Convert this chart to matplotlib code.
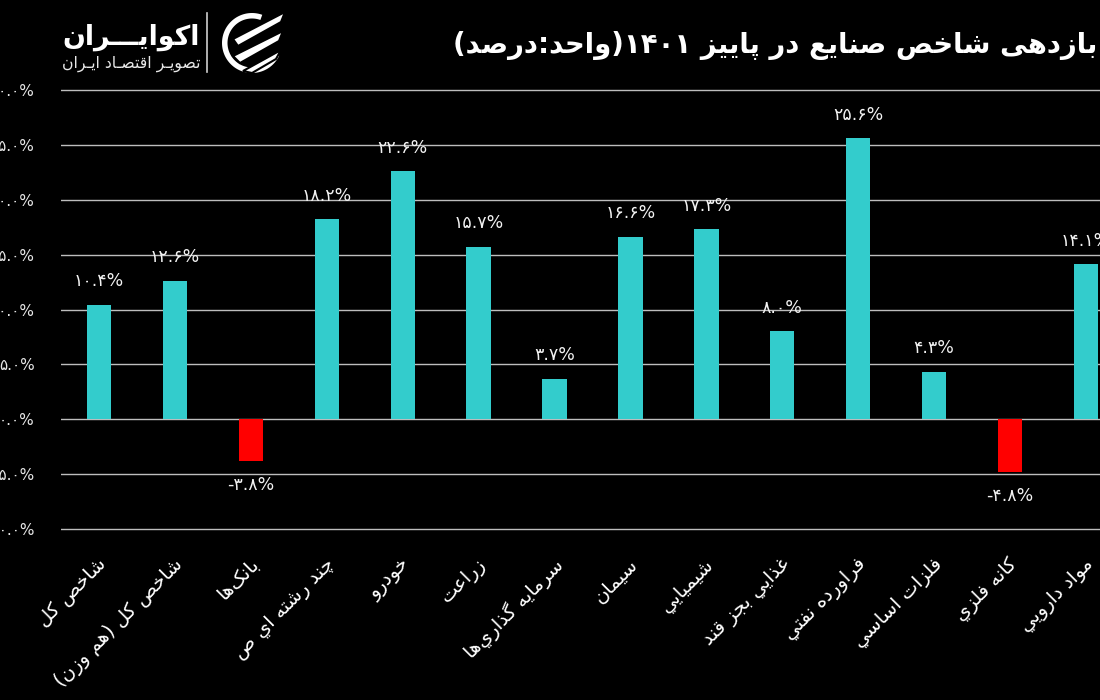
import re
import numpy as np
import matplotlib
matplotlib.use("Agg")
import matplotlib.pyplot as plt
import matplotlib.transforms as mtransforms
from matplotlib.patches import Polygon

# ---------------- data ----------------
categories = [
    "شاخص کل",
    "شاخص کل (هم وزن)",
    "بانک\u200cها",
    "چند رشته اي ص",
    "خودرو",
    "زراعت",
    "سرمايه گذاري\u200cها",
    "سيمان",
    "شيميايي",
    "غذايي بجز قند",
    "فراورده نفتي",
    "فلزات اساسي",
    "کانه فلزي",
    "مواد دارويي",
]
values = [10.4, 12.6, -3.8, 18.2, 22.6, 15.7, 3.7, 16.6, 17.3, 8.0, 25.6, 4.3, -4.8, 14.1]
yticks = [-10, -5, 0, 5, 10, 15, 20, 25, 30]
title_text = "بازدهی شاخص صنایع در پاییز ۱۴۰۱(واحد:درصد)"
logo_text = "اکوایـــران"
logo_sub = "تصویـر اقتصـاد ایـران"

POS_COLOR = "#33CCCC"
NEG_COLOR = "#FF0000"

# ---------------- minimal Arabic shaping + bidi ----------------
FORMS = {
    '\u0622': ('\uFE81', '\uFE82'), '\u0623': ('\uFE83', '\uFE84'),
    '\u0625': ('\uFE87', '\uFE88'), '\u0627': ('\uFE8D', '\uFE8E'),
    '\u0628': ('\uFE8F', '\uFE90', '\uFE91', '\uFE92'),
    '\u0629': ('\uFE93', '\uFE94'),
    '\u062A': ('\uFE95', '\uFE96', '\uFE97', '\uFE98'),
    '\u062B': ('\uFE99', '\uFE9A', '\uFE9B', '\uFE9C'),
    '\u062C': ('\uFE9D', '\uFE9E', '\uFE9F', '\uFEA0'),
    '\u062D': ('\uFEA1', '\uFEA2', '\uFEA3', '\uFEA4'),
    '\u062E': ('\uFEA5', '\uFEA6', '\uFEA7', '\uFEA8'),
    '\u062F': ('\uFEA9', '\uFEAA'), '\u0630': ('\uFEAB', '\uFEAC'),
    '\u0631': ('\uFEAD', '\uFEAE'), '\u0632': ('\uFEAF', '\uFEB0'),
    '\u0633': ('\uFEB1', '\uFEB2', '\uFEB3', '\uFEB4'),
    '\u0634': ('\uFEB5', '\uFEB6', '\uFEB7', '\uFEB8'),
    '\u0635': ('\uFEB9', '\uFEBA', '\uFEBB', '\uFEBC'),
    '\u0636': ('\uFEBD', '\uFEBE', '\uFEBF', '\uFEC0'),
    '\u0637': ('\uFEC1', '\uFEC2', '\uFEC3', '\uFEC4'),
    '\u0638': ('\uFEC5', '\uFEC6', '\uFEC7', '\uFEC8'),
    '\u0639': ('\uFEC9', '\uFECA', '\uFECB', '\uFECC'),
    '\u063A': ('\uFECD', '\uFECE', '\uFECF', '\uFED0'),
    '\u0641': ('\uFED1', '\uFED2', '\uFED3', '\uFED4'),
    '\u0642': ('\uFED5', '\uFED6', '\uFED7', '\uFED8'),
    '\u0643': ('\uFED9', '\uFEDA', '\uFEDB', '\uFEDC'),
    '\u0644': ('\uFEDD', '\uFEDE', '\uFEDF', '\uFEE0'),
    '\u0645': ('\uFEE1', '\uFEE2', '\uFEE3', '\uFEE4'),
    '\u0646': ('\uFEE5', '\uFEE6', '\uFEE7', '\uFEE8'),
    '\u0647': ('\uFEE9', '\uFEEA', '\uFEEB', '\uFEEC'),
    '\u0648': ('\uFEED', '\uFEEE'), '\u0649': ('\uFEEF', '\uFEF0'),
    '\u064A': ('\uFEF1', '\uFEF2', '\uFEF3', '\uFEF4'),
    '\u067E': ('\uFB56', '\uFB57', '\uFB58', '\uFB59'),
    '\u0686': ('\uFB7A', '\uFB7B', '\uFB7C', '\uFB7D'),
    '\u0698': ('\uFB8A', '\uFB8B'),
    '\u06A9': ('\uFB8E', '\uFB8F', '\uFB90', '\uFB91'),
    '\u06AF': ('\uFB92', '\uFB93', '\uFB94', '\uFB95'),
    '\u06CC': ('\uFBFC', '\uFBFD', '\uFBFE', '\uFBFF'),
}
LAMALEF = {'\u0627': ('\uFEFB', '\uFEFC'), '\u0622': ('\uFEF5', '\uFEF6'),
           '\u0623': ('\uFEF7', '\uFEF8'), '\u0625': ('\uFEF9', '\uFEFA')}
TATWEEL = '\u0640'
MIRROR = {'(': ')', ')': '(', '[': ']', ']': '['}


def _joins_next(c):
    return c == TATWEEL or (c in FORMS and len(FORMS[c]) == 4)


def _is_joiner(c):
    return c == TATWEEL or c in FORMS


def shape(s):
    out = []
    i, n = 0, len(s)
    while i < n:
        c = s[i]
        prev_j = i > 0 and _joins_next(s[i - 1])
        if c == '\u0644' and i + 1 < n and s[i + 1] in LAMALEF:
            out.append(LAMALEF[s[i + 1]][1 if prev_j else 0])
            i += 2
            continue
        if c in FORMS:
            f = FORMS[c]
            next_j = len(f) == 4 and i + 1 < n and _is_joiner(s[i + 1])
            if len(f) == 4:
                idx = 3 if (prev_j and next_j) else 1 if prev_j else 2 if next_j else 0
            else:
                idx = 1 if prev_j else 0
            out.append(f[idx])
        elif c == '\u200c':
            pass
        else:
            out.append(c)
        i += 1
    return ''.join(out)


def visual(s):
    sh = shape(s)
    parts = re.split(r'([0-9\u06F0-\u06F9]+(?:[.,:][0-9\u06F0-\u06F9]+)*)', sh)
    res = []
    for k, p in enumerate(parts):
        if k % 2 == 1:
            res.append(p)
        else:
            res.append(''.join(MIRROR.get(ch, ch) for ch in reversed(p)))
    return ''.join(reversed(res))


FA_DIGITS = str.maketrans('0123456789', '۰۱۲۳۴۵۶۷۸۹')


def fa_pct(v):
    return f"{v:.1f}%".translate(FA_DIGITS)


# ---------------- figure ----------------
plt.rcParams['font.family'] = ['DejaVu Sans']
fig = plt.figure(figsize=(11, 7), dpi=100, facecolor='black')

ax = fig.add_axes([61 / 1100, 160 / 700, 1063 / 1100, 461 / 700])
ax.set_facecolor('black')
x = np.arange(len(categories))
colors = [POS_COLOR if v >= 0 else NEG_COLOR for v in values]
ax.bar(x, values, width=0.32, color=colors, zorder=3)
ax.set_xlim(-0.5, len(categories) - 0.5)
ax.set_ylim(-11, 31)
ax.set_yticks(yticks)
ax.set_yticklabels([fa_pct(t) for t in yticks], color='#E6E6E6', fontsize=11)
ax.grid(axis='y', color='#BDBDBD', linewidth=1.0, zorder=0)
ax.set_axisbelow(True)
for sp in ax.spines.values():
    sp.set_visible(False)
ax.tick_params(axis='y', length=0, pad=19)
ax.tick_params(axis='x', length=0, pad=10.5)
ax.set_xticks(x)
ax.set_xticklabels([visual(c) for c in categories], rotation=45, ha='right', va='top',
                   rotation_mode='anchor', fontsize=14, color='white')
offset = mtransforms.ScaledTranslation(-2 / 100, 0, fig.dpi_scale_trans)
for lbl in ax.get_xticklabels():
    lbl.set_transform(lbl.get_transform() + offset)

for xi, v in zip(x, values):
    dy = 17 if v >= 0 else -17
    ax.annotate(fa_pct(v), (xi, v), xytext=(0, dy), textcoords='offset points',
                ha='center', va='center', color='#F2F2F2', fontsize=12.5, zorder=4)

# ---------------- overlay (pixel coordinates) ----------------
ov = fig.add_axes([0, 0, 1, 1], zorder=5)
ov.set_xlim(0, 1100)
ov.set_ylim(700, 0)
ov.axis('off')
ov.patch.set_alpha(0)

title = ov.text(1097, 45, visual(title_text), ha='right', va='center', color='white',
                fontsize=21, fontweight='bold')
t_logo = ov.text(200, 37, visual(logo_text), ha='right', va='center', color='white',
                 fontsize=24, fontweight='bold')
t_sub = ov.text(200, 64, visual(logo_sub), ha='right', va='center', color='#E8E8E8',
                fontsize=11)

fig.canvas.draw()
r = fig.canvas.get_renderer()
for t, w in [(title, 645), (t_logo, 138), (t_sub, 138)]:
    bb = t.get_window_extent(r)
    t.set_fontsize(t.get_fontsize() * w / bb.width)

# separator
ov.plot([207, 207], [13, 72], color='#CFCFCF', linewidth=1.2)
# icon
cx, cy, R, w = 252, 43, 30, 5.5
th = np.radians(np.linspace(70, 335, 80))
outer = np.c_[cx + R * np.cos(th), cy - R * np.sin(th)]
inner = np.c_[cx + (R - w) * np.cos(th[::-1]), cy - (R - w) * np.sin(th[::-1])]
ov.add_patch(Polygon(np.r_[outer, inner], closed=True, color='white', lw=0))
stripes = [
    [(233, 39), (285, 12), (281, 22), (238, 46)],
    [(233, 56), (283, 31), (279, 41), (240, 63)],
    [(243, 71), (281, 50), (276, 59), (252, 73)],
]
for s in stripes:
    ov.add_patch(Polygon(s, closed=True, facecolor='white', edgecolor='black', lw=1.5))

fig.savefig('out.png', dpi=100, facecolor='black')
